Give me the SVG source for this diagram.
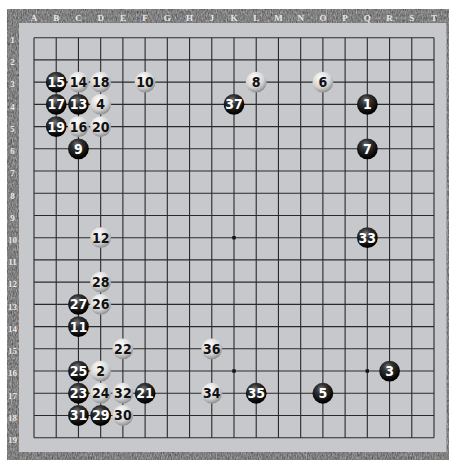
<svg xmlns="http://www.w3.org/2000/svg" xmlns:xlink="http://www.w3.org/1999/xlink" width="449" height="460" viewBox="0 0 449 460">
<defs>
<style>
.lab{font-family:"Liberation Serif","DejaVu Serif",serif;font-weight:bold;font-size:9px;fill:#e8e8e8;text-anchor:middle}
.num{font-family:"Liberation Sans Narrow","DejaVu Sans Condensed","Liberation Sans",sans-serif;font-weight:bold;font-size:14px;text-anchor:middle}
.b .num{fill:#ffffff}
.w .num{fill:#111111}
.grid{stroke:#2a2a2a;stroke-width:1.1;fill:none}
</style>
<filter id="tex" x="0" y="0" width="1" height="1" filterUnits="objectBoundingBox" color-interpolation-filters="sRGB">
<feTurbulence type="fractalNoise" baseFrequency="0.8 0.35" numOctaves="3" seed="7"/>
<feColorMatrix type="matrix" values="0.6 0.6 0 0 -0.1  0.6 0.6 0 0 -0.1  0.6 0.6 0 0 -0.1  0 0 0 0 0.55"/>
</filter>
<radialGradient id="gb" cx="0.42" cy="0.3" r="0.65">
<stop offset="0" stop-color="#7a7a7a"/>
<stop offset="0.35" stop-color="#333"/>
<stop offset="0.8" stop-color="#111"/>
<stop offset="1" stop-color="#000"/>
</radialGradient>
<radialGradient id="gw" cx="0.4" cy="0.3" r="0.72">
<stop offset="0" stop-color="#ffffff"/>
<stop offset="0.25" stop-color="#eeeeee"/>
<stop offset="0.65" stop-color="#d2d2d2"/>
<stop offset="1" stop-color="#8a8a8a"/>
</radialGradient>
<circle id="bs" r="10.4" fill="url(#gb)"/>
<circle id="ws" r="10.4" fill="url(#gw)"/>
</defs>
<rect x="0" y="0" width="449" height="460" fill="#ffffff"/>
<g id="frame">
<rect x="7" y="9" width="442" height="451" fill="#808080"/>
<rect x="7" y="9" width="442" height="451" fill="#fff" filter="url(#tex)"/>
<rect x="19" y="23" width="427.5" height="429" fill="#c7c8cb"/>
</g>
<g id="labels">
<text class="lab" x="34" y="21">A</text><text class="lab" x="56.22" y="21">B</text><text class="lab" x="78.44" y="21">C</text><text class="lab" x="100.67" y="21">D</text><text class="lab" x="122.89" y="21">E</text><text class="lab" x="145.11" y="21">F</text><text class="lab" x="167.33" y="21">G</text><text class="lab" x="189.56" y="21">H</text><text class="lab" x="211.78" y="21">J</text><text class="lab" x="234" y="21">K</text><text class="lab" x="256.22" y="21">L</text><text class="lab" x="278.44" y="21">M</text><text class="lab" x="300.67" y="21">N</text><text class="lab" x="322.89" y="21">O</text><text class="lab" x="345.11" y="21">P</text><text class="lab" x="367.33" y="21">Q</text><text class="lab" x="389.56" y="21">R</text><text class="lab" x="411.78" y="21">S</text><text class="lab" x="434" y="21">T</text>
<text class="lab" x="12.5" y="43">1</text><text class="lab" x="12.5" y="65.2">2</text><text class="lab" x="12.5" y="87.4">3</text><text class="lab" x="12.5" y="109.6">4</text><text class="lab" x="12.5" y="131.8">5</text><text class="lab" x="12.5" y="154">6</text><text class="lab" x="12.5" y="176.2">7</text><text class="lab" x="12.5" y="198.5">8</text><text class="lab" x="12.5" y="220.7">9</text><text class="lab" x="12.5" y="242.9">10</text><text class="lab" x="12.5" y="265.1">11</text><text class="lab" x="12.5" y="287.3">12</text><text class="lab" x="12.5" y="309.6">13</text><text class="lab" x="12.5" y="331.8">14</text><text class="lab" x="12.5" y="354">15</text><text class="lab" x="12.5" y="376.2">16</text><text class="lab" x="12.5" y="398.5">17</text><text class="lab" x="12.5" y="420.7">18</text><text class="lab" x="12.5" y="442.9">19</text>
</g>
<g id="grid">
<path class="grid" d="M34 37.7V437.7M56.22 37.7V437.7M78.44 37.7V437.7M100.67 37.7V437.7M122.89 37.7V437.7M145.11 37.7V437.7M167.33 37.7V437.7M189.56 37.7V437.7M211.78 37.7V437.7M234 37.7V437.7M256.22 37.7V437.7M278.44 37.7V437.7M300.67 37.7V437.7M322.89 37.7V437.7M345.11 37.7V437.7M367.33 37.7V437.7M389.56 37.7V437.7M411.78 37.7V437.7M434 37.7V437.7"/>
<path class="grid" d="M34 37.7H434M34 59.92H434M34 82.14H434M34 104.37H434M34 126.59H434M34 148.81H434M34 171.03H434M34 193.26H434M34 215.48H434M34 237.7H434M34 259.92H434M34 282.14H434M34 304.37H434M34 326.59H434M34 348.81H434M34 371.03H434M34 393.26H434M34 415.48H434M34 437.7H434"/>
</g>
<g id="hoshi" fill="#111">
<rect x="232.3" y="236" width="3.4" height="3.4"/>
<rect x="232.3" y="369.3" width="3.4" height="3.4"/>
<rect x="365.6" y="369.3" width="3.4" height="3.4"/>
</g>
<g id="stones">
<g id="s1" class="b" transform="translate(367.33,104.37)"><use xlink:href="#bs"/><text class="num" y="5">1</text></g>
<g id="s2" class="w" transform="translate(100.67,371.03)"><use xlink:href="#ws"/><text class="num" y="5">2</text></g>
<g id="s3" class="b" transform="translate(389.56,371.03)"><use xlink:href="#bs"/><text class="num" y="5">3</text></g>
<g id="s4" class="w" transform="translate(100.67,104.37)"><use xlink:href="#ws"/><text class="num" y="5">4</text></g>
<g id="s5" class="b" transform="translate(322.89,393.26)"><use xlink:href="#bs"/><text class="num" y="5">5</text></g>
<g id="s6" class="w" transform="translate(322.89,82.14)"><use xlink:href="#ws"/><text class="num" y="5">6</text></g>
<g id="s7" class="b" transform="translate(367.33,148.81)"><use xlink:href="#bs"/><text class="num" y="5">7</text></g>
<g id="s8" class="w" transform="translate(256.22,82.14)"><use xlink:href="#ws"/><text class="num" y="5">8</text></g>
<g id="s9" class="b" transform="translate(78.44,148.81)"><use xlink:href="#bs"/><text class="num" y="5">9</text></g>
<g id="s10" class="w" transform="translate(145.11,82.14)"><use xlink:href="#ws"/><text class="num" y="5">10</text></g>
<g id="s11" class="b" transform="translate(78.44,326.59)"><use xlink:href="#bs"/><text class="num" y="5">11</text></g>
<g id="s12" class="w" transform="translate(100.67,237.7)"><use xlink:href="#ws"/><text class="num" y="5">12</text></g>
<g id="s13" class="b" transform="translate(78.44,104.37)"><use xlink:href="#bs"/><text class="num" y="5">13</text></g>
<g id="s14" class="w" transform="translate(78.44,82.14)"><use xlink:href="#ws"/><text class="num" y="5">14</text></g>
<g id="s15" class="b" transform="translate(56.22,82.14)"><use xlink:href="#bs"/><text class="num" y="5">15</text></g>
<g id="s16" class="w" transform="translate(78.44,126.59)"><use xlink:href="#ws"/><text class="num" y="5">16</text></g>
<g id="s17" class="b" transform="translate(56.22,104.37)"><use xlink:href="#bs"/><text class="num" y="5">17</text></g>
<g id="s18" class="w" transform="translate(100.67,82.14)"><use xlink:href="#ws"/><text class="num" y="5">18</text></g>
<g id="s19" class="b" transform="translate(56.22,126.59)"><use xlink:href="#bs"/><text class="num" y="5">19</text></g>
<g id="s20" class="w" transform="translate(100.67,126.59)"><use xlink:href="#ws"/><text class="num" y="5">20</text></g>
<g id="s21" class="b" transform="translate(145.11,393.26)"><use xlink:href="#bs"/><text class="num" y="5">21</text></g>
<g id="s22" class="w" transform="translate(122.89,348.81)"><use xlink:href="#ws"/><text class="num" y="5">22</text></g>
<g id="s23" class="b" transform="translate(78.44,393.26)"><use xlink:href="#bs"/><text class="num" y="5">23</text></g>
<g id="s24" class="w" transform="translate(100.67,393.26)"><use xlink:href="#ws"/><text class="num" y="5">24</text></g>
<g id="s25" class="b" transform="translate(78.44,371.03)"><use xlink:href="#bs"/><text class="num" y="5">25</text></g>
<g id="s26" class="w" transform="translate(100.67,304.37)"><use xlink:href="#ws"/><text class="num" y="5">26</text></g>
<g id="s27" class="b" transform="translate(78.44,304.37)"><use xlink:href="#bs"/><text class="num" y="5">27</text></g>
<g id="s28" class="w" transform="translate(100.67,282.14)"><use xlink:href="#ws"/><text class="num" y="5">28</text></g>
<g id="s29" class="b" transform="translate(100.67,415.48)"><use xlink:href="#bs"/><text class="num" y="5">29</text></g>
<g id="s30" class="w" transform="translate(122.89,415.48)"><use xlink:href="#ws"/><text class="num" y="5">30</text></g>
<g id="s31" class="b" transform="translate(78.44,415.48)"><use xlink:href="#bs"/><text class="num" y="5">31</text></g>
<g id="s32" class="w" transform="translate(122.89,393.26)"><use xlink:href="#ws"/><text class="num" y="5">32</text></g>
<g id="s33" class="b" transform="translate(367.33,237.7)"><use xlink:href="#bs"/><text class="num" y="5">33</text></g>
<g id="s34" class="w" transform="translate(211.78,393.26)"><use xlink:href="#ws"/><text class="num" y="5">34</text></g>
<g id="s35" class="b" transform="translate(256.22,393.26)"><use xlink:href="#bs"/><text class="num" y="5">35</text></g>
<g id="s36" class="w" transform="translate(211.78,348.81)"><use xlink:href="#ws"/><text class="num" y="5">36</text></g>
<g id="s37" class="b" transform="translate(234,104.37)"><use xlink:href="#bs"/><text class="num" y="5">37</text></g>
</g>
</svg>
